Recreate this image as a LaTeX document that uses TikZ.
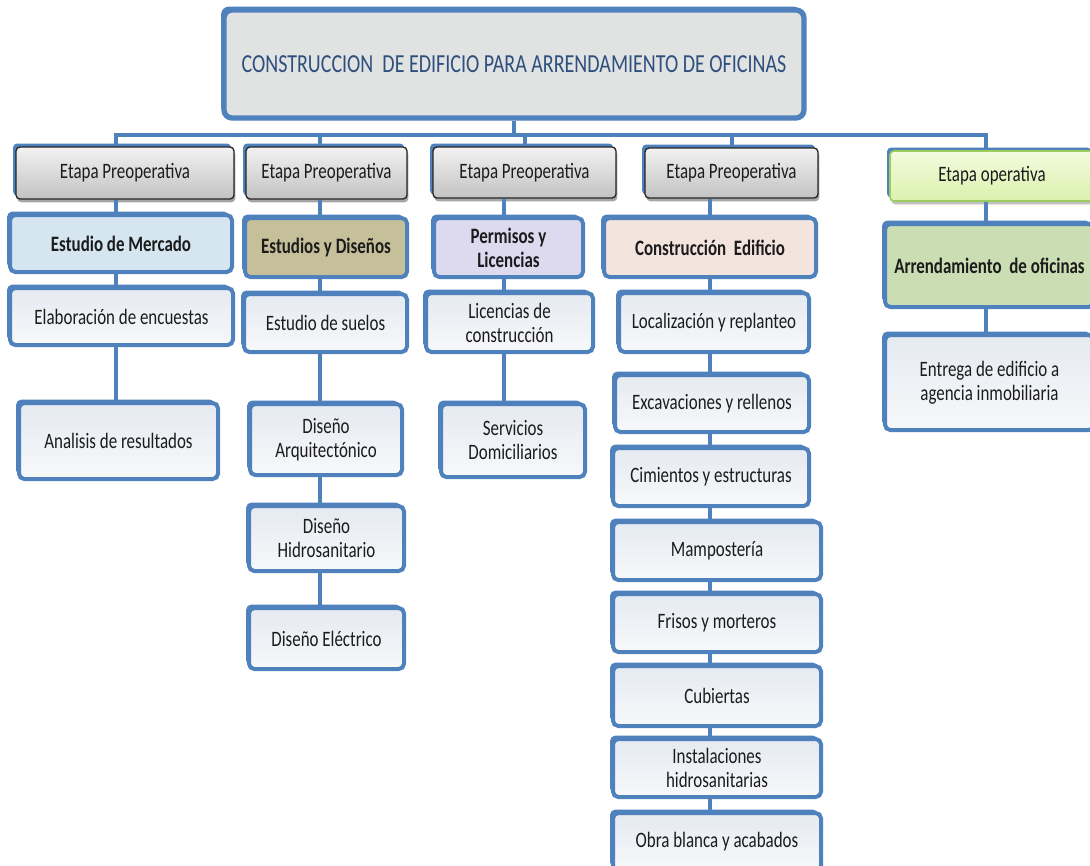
\documentclass[tikz,border=0pt]{standalone}
\usepackage{fontspec}
\setmainfont{Carlito}
\usetikzlibrary{shadows}
\definecolor{bblue}{HTML}{4F81BD}
\definecolor{txt}{HTML}{1C1C1C}
\definecolor{ttxt}{HTML}{2E4F7E}
\definecolor{titlefill}{HTML}{E0E3E1}
\definecolor{boxtop}{HTML}{E5EAF1}
\definecolor{boxbot}{HTML}{F7F8FA}
\definecolor{mercado}{HTML}{D5E6F1}
\definecolor{disenos}{HTML}{C6C09A}
\definecolor{permisos}{HTML}{DDDAF0}
\definecolor{constr}{HTML}{F3E4DD}
\definecolor{arrend}{HTML}{CBDDB2}
\definecolor{gtop}{HTML}{F2F2F2}
\definecolor{gbot}{HTML}{C2C2C2}
\definecolor{optop}{HTML}{F2FBDD}
\definecolor{opbot}{HTML}{DCF1AE}
\definecolor{opline}{HTML}{9ACD5C}
\newcommand\sq[1]{\scalebox{0.77}[1]{#1}}
\tikzset{
  sz/.style 2 args={minimum width=#1*0.75pt, minimum height=#2*0.75pt},
  bluebehind/.style={preaction={fill=bblue, rounded corners=4pt, transform canvas={xshift=-2.2pt, yshift=2.6pt}}},
  basebox/.style={inner sep=0pt, align=center, text=txt,
    font=\fontsize{16.5pt}{18pt}\selectfont},
  obox/.style={basebox, bluebehind, draw=bblue, line width=3pt, rounded corners=4pt,
    top color=boxtop, bottom color=boxbot},
  cbox/.style={basebox, bluebehind, draw=bblue, line width=3pt, rounded corners=4pt,
    fill=#1, font=\bfseries\fontsize{16.5pt}{18pt}\selectfont},
  etapabox/.style={basebox, bluebehind,
    drop shadow={shadow xshift=1pt, shadow yshift=-2.5pt, opacity=0.35, fill=black},
    draw=black!85, line width=1pt, rounded corners=3pt, top color=gtop, bottom color=gbot},
  opbox/.style={basebox, bluebehind,
    drop shadow={shadow xshift=1pt, shadow yshift=-2.5pt, opacity=0.25, fill=black},
    draw=opline, line width=1.2pt, rounded corners=3pt, top color=optop, bottom color=opbot},
  titlebox/.style={basebox, bluebehind, draw=bblue, line width=4pt, rounded corners=6pt,
    fill=titlefill, text=ttxt, font=\fontsize{19.5pt}{22pt}\selectfont},
  conn/.style={draw=bblue, line width=3pt}
}
\begin{document}
\begin{tikzpicture}[x=0.75pt,y=-0.75pt]
\useasboundingbox (0,0) rectangle (1090,865);
\fill[white] (0,0) rectangle (1090,865);

% title
\node[titlebox, sz={580}{108}] (title) at (514,64)
  {\sq{CONSTRUCCION\ \ DE EDIFICIO PARA ARRENDAMIENTO DE OFICINAS}};

% etapas
\node[etapabox, sz={218}{52}] (e1) at (125,173) {\sq{Etapa Preoperativa}};
\node[etapabox, sz={161}{52}] (e2) at (326.5,173) {\sq{Etapa Preoperativa}};
\node[etapabox, sz={183}{51}] (e3) at (524.5,172.5) {\sq{Etapa Preoperativa}};
\node[etapabox, sz={173}{50}] (e4) at (731.5,173) {\sq{Etapa Preoperativa}};
\node[opbox, sz={204}{50}] (e5) at (992,176) {\sq{Etapa operativa}};

% level 2
\node[cbox=mercado, sz={222}{57}] (m1) at (121,243.5) {\sq{Estudio de Mercado}};
\node[cbox=disenos, sz={162}{59}] (m2) at (326,247.5) {\sq{Estudios y Diseños}};
\node[cbox=permisos, sz={149}{59}] (m3) at (508.5,247.5) {\sq{Permisos y}\\\sq{Licencias}};
\node[cbox=constr, sz={212}{59}] (m4) at (710,247.5) {\sq{Construcción\ \ Edificio}};
\node[cbox=arrend, sz={209}{83}] (m5) at (989.5,265.5) {\sq{Arrendamiento\ \ de oficinas}};

% column 1
\node[obox, sz={223}{57}] (a1) at (121.5,316.5) {\sq{Elaboración de encuestas}};
\node[obox, sz={199}{76}] (a2) at (118.5,441) {\sq{Analisis de resultados}};

% column 2
\node[obox, sz={163}{58}] (b1) at (325.5,323) {\sq{Estudio de suelos}};
\node[obox, sz={152}{71}] (b2) at (326,439.5) {\sq{Diseño}\\\sq{Arquitectónico}};
\node[obox, sz={155}{65}] (b3) at (326.5,538.5) {\sq{Diseño}\\\sq{Hidrosanitario}};
\node[obox, sz={155}{61}] (b4) at (326.5,638.5) {\sq{Diseño Eléctrico}};

% column 3
\node[obox, sz={167}{59}] (c1) at (509.5,322.5) {\sq{Licencias de}\\\sq{construcción}};
\node[obox, sz={144}{73}] (c2) at (513,440.5) {\sq{Servicios}\\\sq{Domiciliarios}};

% column 4
\node[obox, sz={190}{59}] (d1) at (714,322.5) {\sq{Localización y replanteo}};
\node[obox, sz={194}{57}] (d2) at (712,403.5) {\sq{Excavaciones y rellenos}};
\node[obox, sz={196}{58}] (d3) at (711,477) {\sq{Cimientos y estructuras}};
\node[obox, sz={208}{58}] (d4) at (717,551) {\sq{Mampostería}};
\node[obox, sz={208}{58}] (d5) at (717,623) {\sq{Frisos y morteros}};
\node[obox, sz={208}{60}] (d6) at (717,696) {\sq{Cubiertas}};
\node[obox, sz={208}{58}] (d7) at (717,768) {\sq{Instalaciones}\\\sq{hidrosanitarias}};
\node[obox, sz={208}{58}] (d8) at (717,842) {\sq{Obra blanca y acabados}};

% column 5
\node[obox, sz={209}{95}] (f1) at (989.5,382.5) {\sq{Entrega de edificio a}\\\sq{agencia inmobiliaria}};

% column x positions
\coordinate (x1) at (116,0);
\coordinate (x2) at (320,0);
\coordinate (x3) at (504,0);
\coordinate (x4) at (710,0);
\coordinate (x5) at (986,0);

% connectors
\begin{scope}[on background layer/.try]
\path (title.south) ++(0,14) coordinate (bar);
\draw[conn] (title.south) -- (bar);
\draw[conn] (bar) -| (e1.north -| x1);
\draw[conn] (bar) -| (e2.north -| x2);
\draw[conn] (bar) -| (e3.north);
\draw[conn] (bar) -| (e4.north);
\draw[conn] (bar) -| (e5.north -| x5);

\draw[conn] (e1.south -| x1) -- (m1.north -| x1);
\draw[conn] (m1.south -| x1) -- (a1.north -| x1);
\draw[conn] (a1.south -| x1) -- (a2.north -| x1);

\draw[conn] (e2.south -| x2) -- (m2.north -| x2);
\draw[conn] (m2.south -| x2) -- (b1.north -| x2);
\draw[conn] (b1.south -| x2) -- (b2.north -| x2);
\draw[conn] (b2.south -| x2) -- (b3.north -| x2);
\draw[conn] (b3.south -| x2) -- (b4.north -| x2);

\draw[conn] (e3.south -| x3) -- (m3.north -| x3);
\draw[conn] (m3.south -| x3) -- (c1.north -| x3);
\draw[conn] (c1.south -| x3) -- (c2.north -| x3);

\draw[conn] (e4.south -| x4) -- (m4.north -| x4);
\draw[conn] (m4.south -| x4) -- (d1.north -| x4);
\draw[conn] (d1.south -| x4) -- (d2.north -| x4);
\draw[conn] (d2.south -| x4) -- (d3.north -| x4);
\draw[conn] (d3.south -| x4) -- (d4.north -| x4);
\draw[conn] (d4.south -| x4) -- (d5.north -| x4);
\draw[conn] (d5.south -| x4) -- (d6.north -| x4);
\draw[conn] (d6.south -| x4) -- (d7.north -| x4);
\draw[conn] (d7.south -| x4) -- (d8.north -| x4);

\draw[conn] (e5.south -| x5) -- (m5.north -| x5);
\draw[conn] (m5.south -| x5) -- (f1.north -| x5);
\end{scope}
\end{tikzpicture}
\end{document}
